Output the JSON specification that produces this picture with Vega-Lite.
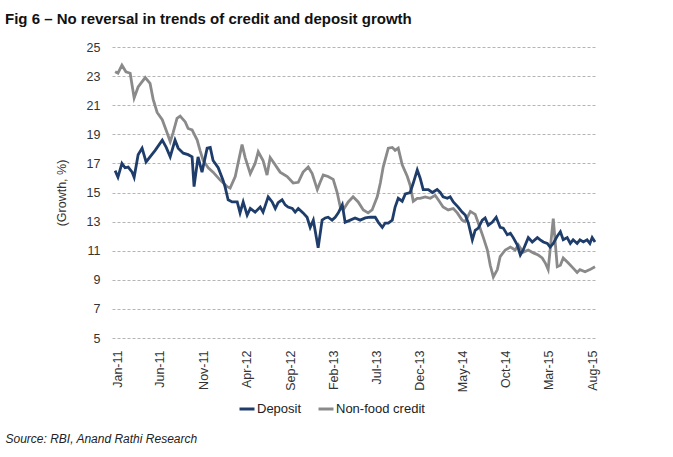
{
  "$schema": "https://vega.github.io/schema/vega-lite/v6.json",
  "width": 485,
  "height": 291,
  "autosize": {"type": "none"},
  "padding": {"left": 112, "top": 47, "right": 76, "bottom": 119},
  "background": "white",
  "config": {
    "font": "Liberation Sans, Arial, sans-serif",
    "view": {"stroke": null}
  },
  "title": {
    "text": "Fig 6 –  No reversal in trends of credit and deposit growth",
    "anchor": "start",
    "frame": "group",
    "dx": -107,
    "offset": 14,
    "fontSize": 15,
    "fontWeight": "bold",
    "color": "#111111"
  },
  "data": {
    "values": [
      {"date": "2010-12-25", "series": "Non-food credit", "value": 23.3},
      {"date": "2011-01-04", "series": "Non-food credit", "value": 23.2},
      {"date": "2011-01-18", "series": "Non-food credit", "value": 23.75},
      {"date": "2011-02-01", "series": "Non-food credit", "value": 23.3},
      {"date": "2011-02-16", "series": "Non-food credit", "value": 23.2},
      {"date": "2011-03-02", "series": "Non-food credit", "value": 21.5},
      {"date": "2011-03-16", "series": "Non-food credit", "value": 22.25},
      {"date": "2011-04-10", "series": "Non-food credit", "value": 22.9},
      {"date": "2011-04-27", "series": "Non-food credit", "value": 22.5},
      {"date": "2011-05-08", "series": "Non-food credit", "value": 21.4},
      {"date": "2011-05-22", "series": "Non-food credit", "value": 20.5},
      {"date": "2011-06-09", "series": "Non-food credit", "value": 20.0},
      {"date": "2011-06-26", "series": "Non-food credit", "value": 19.1},
      {"date": "2011-07-07", "series": "Non-food credit", "value": 18.5},
      {"date": "2011-07-17", "series": "Non-food credit", "value": 19.1},
      {"date": "2011-07-31", "series": "Non-food credit", "value": 20.1},
      {"date": "2011-08-11", "series": "Non-food credit", "value": 20.25},
      {"date": "2011-08-29", "series": "Non-food credit", "value": 19.85},
      {"date": "2011-09-08", "series": "Non-food credit", "value": 19.4},
      {"date": "2011-09-22", "series": "Non-food credit", "value": 19.3},
      {"date": "2011-10-10", "series": "Non-food credit", "value": 18.6},
      {"date": "2011-10-20", "series": "Non-food credit", "value": 17.9},
      {"date": "2011-10-31", "series": "Non-food credit", "value": 17.2},
      {"date": "2011-11-18", "series": "Non-food credit", "value": 16.7},
      {"date": "2011-12-05", "series": "Non-food credit", "value": 16.4},
      {"date": "2011-12-30", "series": "Non-food credit", "value": 15.85},
      {"date": "2012-01-24", "series": "Non-food credit", "value": 15.4},
      {"date": "2012-02-03", "series": "Non-food credit", "value": 15.3},
      {"date": "2012-02-21", "series": "Non-food credit", "value": 16.1},
      {"date": "2012-03-16", "series": "Non-food credit", "value": 18.3},
      {"date": "2012-03-27", "series": "Non-food credit", "value": 17.4},
      {"date": "2012-04-14", "series": "Non-food credit", "value": 16.3},
      {"date": "2012-05-01", "series": "Non-food credit", "value": 17.0},
      {"date": "2012-05-12", "series": "Non-food credit", "value": 17.8},
      {"date": "2012-05-29", "series": "Non-food credit", "value": 17.2},
      {"date": "2012-06-12", "series": "Non-food credit", "value": 16.2},
      {"date": "2012-06-23", "series": "Non-food credit", "value": 17.4},
      {"date": "2012-07-04", "series": "Non-food credit", "value": 17.1},
      {"date": "2012-07-28", "series": "Non-food credit", "value": 16.4},
      {"date": "2012-08-22", "series": "Non-food credit", "value": 16.1},
      {"date": "2012-09-12", "series": "Non-food credit", "value": 15.65},
      {"date": "2012-09-30", "series": "Non-food credit", "value": 15.7},
      {"date": "2012-10-17", "series": "Non-food credit", "value": 16.4},
      {"date": "2012-11-04", "series": "Non-food credit", "value": 16.75},
      {"date": "2012-11-18", "series": "Non-food credit", "value": 16.3},
      {"date": "2012-12-06", "series": "Non-food credit", "value": 15.2},
      {"date": "2012-12-16", "series": "Non-food credit", "value": 15.7},
      {"date": "2012-12-27", "series": "Non-food credit", "value": 16.2},
      {"date": "2013-01-13", "series": "Non-food credit", "value": 16.1},
      {"date": "2013-01-31", "series": "Non-food credit", "value": 15.9},
      {"date": "2013-02-14", "series": "Non-food credit", "value": 15.0},
      {"date": "2013-02-25", "series": "Non-food credit", "value": 14.0},
      {"date": "2013-03-07", "series": "Non-food credit", "value": 13.8},
      {"date": "2013-03-25", "series": "Non-food credit", "value": 14.35},
      {"date": "2013-04-11", "series": "Non-food credit", "value": 14.7},
      {"date": "2013-04-29", "series": "Non-food credit", "value": 14.35},
      {"date": "2013-05-17", "series": "Non-food credit", "value": 13.8},
      {"date": "2013-06-03", "series": "Non-food credit", "value": 13.6},
      {"date": "2013-06-17", "series": "Non-food credit", "value": 13.8},
      {"date": "2013-07-05", "series": "Non-food credit", "value": 14.7},
      {"date": "2013-07-16", "series": "Non-food credit", "value": 15.65},
      {"date": "2013-07-26", "series": "Non-food credit", "value": 16.75},
      {"date": "2013-08-13", "series": "Non-food credit", "value": 18.05},
      {"date": "2013-08-27", "series": "Non-food credit", "value": 18.1},
      {"date": "2013-09-06", "series": "Non-food credit", "value": 17.9},
      {"date": "2013-09-17", "series": "Non-food credit", "value": 18.05},
      {"date": "2013-10-01", "series": "Non-food credit", "value": 16.9},
      {"date": "2013-10-19", "series": "Non-food credit", "value": 16.1},
      {"date": "2013-10-29", "series": "Non-food credit", "value": 15.5},
      {"date": "2013-11-09", "series": "Non-food credit", "value": 14.4},
      {"date": "2013-11-23", "series": "Non-food credit", "value": 14.6},
      {"date": "2013-12-03", "series": "Non-food credit", "value": 14.6},
      {"date": "2013-12-21", "series": "Non-food credit", "value": 14.7},
      {"date": "2014-01-08", "series": "Non-food credit", "value": 14.6},
      {"date": "2014-01-25", "series": "Non-food credit", "value": 14.8},
      {"date": "2014-02-05", "series": "Non-food credit", "value": 14.5},
      {"date": "2014-02-22", "series": "Non-food credit", "value": 14.0},
      {"date": "2014-03-12", "series": "Non-food credit", "value": 13.8},
      {"date": "2014-03-30", "series": "Non-food credit", "value": 13.9},
      {"date": "2014-04-13", "series": "Non-food credit", "value": 13.6},
      {"date": "2014-04-30", "series": "Non-food credit", "value": 13.1},
      {"date": "2014-05-11", "series": "Non-food credit", "value": 13.0},
      {"date": "2014-05-29", "series": "Non-food credit", "value": 13.7},
      {"date": "2014-06-15", "series": "Non-food credit", "value": 13.5},
      {"date": "2014-06-26", "series": "Non-food credit", "value": 12.9},
      {"date": "2014-07-13", "series": "Non-food credit", "value": 11.95},
      {"date": "2014-07-28", "series": "Non-food credit", "value": 11.05},
      {"date": "2014-08-07", "series": "Non-food credit", "value": 10.0},
      {"date": "2014-08-18", "series": "Non-food credit", "value": 9.2},
      {"date": "2014-09-01", "series": "Non-food credit", "value": 9.7},
      {"date": "2014-09-11", "series": "Non-food credit", "value": 10.6},
      {"date": "2014-09-29", "series": "Non-food credit", "value": 11.05},
      {"date": "2014-10-17", "series": "Non-food credit", "value": 11.25},
      {"date": "2014-11-03", "series": "Non-food credit", "value": 11.05},
      {"date": "2014-11-14", "series": "Non-food credit", "value": 11.4},
      {"date": "2014-12-01", "series": "Non-food credit", "value": 10.9},
      {"date": "2014-12-19", "series": "Non-food credit", "value": 11.05},
      {"date": "2015-01-06", "series": "Non-food credit", "value": 10.85},
      {"date": "2015-01-23", "series": "Non-food credit", "value": 10.7},
      {"date": "2015-02-06", "series": "Non-food credit", "value": 10.5},
      {"date": "2015-02-17", "series": "Non-food credit", "value": 10.15},
      {"date": "2015-02-27", "series": "Non-food credit", "value": 9.7},
      {"date": "2015-03-17", "series": "Non-food credit", "value": 13.2},
      {"date": "2015-03-31", "series": "Non-food credit", "value": 9.9},
      {"date": "2015-04-11", "series": "Non-food credit", "value": 10.0},
      {"date": "2015-04-21", "series": "Non-food credit", "value": 10.5},
      {"date": "2015-05-09", "series": "Non-food credit", "value": 10.15},
      {"date": "2015-05-26", "series": "Non-food credit", "value": 9.8},
      {"date": "2015-06-09", "series": "Non-food credit", "value": 9.5},
      {"date": "2015-06-19", "series": "Non-food credit", "value": 9.7},
      {"date": "2015-07-07", "series": "Non-food credit", "value": 9.55},
      {"date": "2015-07-24", "series": "Non-food credit", "value": 9.7},
      {"date": "2015-08-11", "series": "Non-food credit", "value": 9.9},
      {"date": "2010-12-25", "series": "Deposit", "value": 16.5},
      {"date": "2011-01-04", "series": "Deposit", "value": 16.05},
      {"date": "2011-01-18", "series": "Deposit", "value": 17.0},
      {"date": "2011-01-29", "series": "Deposit", "value": 16.7},
      {"date": "2011-02-09", "series": "Deposit", "value": 16.75},
      {"date": "2011-02-23", "series": "Deposit", "value": 16.4},
      {"date": "2011-03-02", "series": "Deposit", "value": 16.05},
      {"date": "2011-03-16", "series": "Deposit", "value": 17.6},
      {"date": "2011-03-30", "series": "Deposit", "value": 18.05},
      {"date": "2011-04-13", "series": "Deposit", "value": 17.1},
      {"date": "2011-04-27", "series": "Deposit", "value": 17.45},
      {"date": "2011-05-15", "series": "Deposit", "value": 17.9},
      {"date": "2011-06-09", "series": "Deposit", "value": 18.6},
      {"date": "2011-06-23", "series": "Deposit", "value": 18.1},
      {"date": "2011-07-07", "series": "Deposit", "value": 17.45},
      {"date": "2011-07-24", "series": "Deposit", "value": 18.6},
      {"date": "2011-08-04", "series": "Deposit", "value": 18.05},
      {"date": "2011-08-22", "series": "Deposit", "value": 17.7},
      {"date": "2011-09-08", "series": "Deposit", "value": 17.6},
      {"date": "2011-09-22", "series": "Deposit", "value": 17.45},
      {"date": "2011-09-29", "series": "Deposit", "value": 15.4},
      {"date": "2011-10-13", "series": "Deposit", "value": 17.45},
      {"date": "2011-10-27", "series": "Deposit", "value": 16.4},
      {"date": "2011-11-14", "series": "Deposit", "value": 18.05},
      {"date": "2011-11-25", "series": "Deposit", "value": 18.1},
      {"date": "2011-12-05", "series": "Deposit", "value": 17.2},
      {"date": "2011-12-23", "series": "Deposit", "value": 16.7},
      {"date": "2012-01-09", "series": "Deposit", "value": 15.85},
      {"date": "2012-01-16", "series": "Deposit", "value": 15.4},
      {"date": "2012-01-27", "series": "Deposit", "value": 14.5},
      {"date": "2012-02-10", "series": "Deposit", "value": 14.35},
      {"date": "2012-02-28", "series": "Deposit", "value": 14.35},
      {"date": "2012-03-09", "series": "Deposit", "value": 13.6},
      {"date": "2012-03-20", "series": "Deposit", "value": 14.35},
      {"date": "2012-04-03", "series": "Deposit", "value": 13.45},
      {"date": "2012-04-14", "series": "Deposit", "value": 13.9},
      {"date": "2012-05-01", "series": "Deposit", "value": 13.65},
      {"date": "2012-05-19", "series": "Deposit", "value": 14.0},
      {"date": "2012-05-29", "series": "Deposit", "value": 13.65},
      {"date": "2012-06-16", "series": "Deposit", "value": 14.7},
      {"date": "2012-06-30", "series": "Deposit", "value": 14.35},
      {"date": "2012-07-11", "series": "Deposit", "value": 13.9},
      {"date": "2012-07-21", "series": "Deposit", "value": 14.3},
      {"date": "2012-08-04", "series": "Deposit", "value": 14.5},
      {"date": "2012-08-15", "series": "Deposit", "value": 14.15},
      {"date": "2012-08-25", "series": "Deposit", "value": 14.0},
      {"date": "2012-09-09", "series": "Deposit", "value": 13.9},
      {"date": "2012-09-19", "series": "Deposit", "value": 13.65},
      {"date": "2012-09-30", "series": "Deposit", "value": 13.9},
      {"date": "2012-10-17", "series": "Deposit", "value": 13.6},
      {"date": "2012-10-31", "series": "Deposit", "value": 13.3},
      {"date": "2012-11-11", "series": "Deposit", "value": 12.6},
      {"date": "2012-11-22", "series": "Deposit", "value": 13.1},
      {"date": "2012-12-09", "series": "Deposit", "value": 11.2},
      {"date": "2012-12-23", "series": "Deposit", "value": 13.1},
      {"date": "2013-01-03", "series": "Deposit", "value": 13.25},
      {"date": "2013-01-13", "series": "Deposit", "value": 13.3},
      {"date": "2013-01-27", "series": "Deposit", "value": 13.1},
      {"date": "2013-02-07", "series": "Deposit", "value": 13.3},
      {"date": "2013-02-18", "series": "Deposit", "value": 13.6},
      {"date": "2013-03-04", "series": "Deposit", "value": 14.15},
      {"date": "2013-03-14", "series": "Deposit", "value": 12.95},
      {"date": "2013-04-01", "series": "Deposit", "value": 13.1},
      {"date": "2013-04-18", "series": "Deposit", "value": 13.25},
      {"date": "2013-05-06", "series": "Deposit", "value": 13.1},
      {"date": "2013-05-24", "series": "Deposit", "value": 13.25},
      {"date": "2013-06-10", "series": "Deposit", "value": 13.3},
      {"date": "2013-06-28", "series": "Deposit", "value": 13.3},
      {"date": "2013-07-09", "series": "Deposit", "value": 12.95},
      {"date": "2013-07-23", "series": "Deposit", "value": 12.6},
      {"date": "2013-08-02", "series": "Deposit", "value": 12.9},
      {"date": "2013-08-13", "series": "Deposit", "value": 12.9},
      {"date": "2013-08-27", "series": "Deposit", "value": 13.1},
      {"date": "2013-09-06", "series": "Deposit", "value": 14.0},
      {"date": "2013-09-17", "series": "Deposit", "value": 14.6},
      {"date": "2013-10-01", "series": "Deposit", "value": 14.4},
      {"date": "2013-10-12", "series": "Deposit", "value": 14.9},
      {"date": "2013-10-29", "series": "Deposit", "value": 15.0},
      {"date": "2013-11-09", "series": "Deposit", "value": 15.65},
      {"date": "2013-11-23", "series": "Deposit", "value": 16.55},
      {"date": "2013-12-03", "series": "Deposit", "value": 16.0},
      {"date": "2013-12-14", "series": "Deposit", "value": 15.2},
      {"date": "2014-01-01", "series": "Deposit", "value": 15.2},
      {"date": "2014-01-15", "series": "Deposit", "value": 15.0},
      {"date": "2014-02-01", "series": "Deposit", "value": 15.2},
      {"date": "2014-02-12", "series": "Deposit", "value": 15.0},
      {"date": "2014-02-22", "series": "Deposit", "value": 14.7},
      {"date": "2014-03-09", "series": "Deposit", "value": 14.6},
      {"date": "2014-03-19", "series": "Deposit", "value": 14.7},
      {"date": "2014-03-30", "series": "Deposit", "value": 14.35},
      {"date": "2014-04-16", "series": "Deposit", "value": 14.0},
      {"date": "2014-04-30", "series": "Deposit", "value": 13.65},
      {"date": "2014-05-11", "series": "Deposit", "value": 13.45},
      {"date": "2014-05-22", "series": "Deposit", "value": 12.9},
      {"date": "2014-06-05", "series": "Deposit", "value": 11.75},
      {"date": "2014-06-15", "series": "Deposit", "value": 12.4},
      {"date": "2014-06-26", "series": "Deposit", "value": 12.55},
      {"date": "2014-07-10", "series": "Deposit", "value": 13.1},
      {"date": "2014-07-20", "series": "Deposit", "value": 13.25},
      {"date": "2014-07-31", "series": "Deposit", "value": 12.75},
      {"date": "2014-08-14", "series": "Deposit", "value": 12.95},
      {"date": "2014-08-28", "series": "Deposit", "value": 13.3},
      {"date": "2014-09-11", "series": "Deposit", "value": 12.6},
      {"date": "2014-09-22", "series": "Deposit", "value": 12.55},
      {"date": "2014-10-06", "series": "Deposit", "value": 12.1},
      {"date": "2014-10-17", "series": "Deposit", "value": 12.2},
      {"date": "2014-10-27", "series": "Deposit", "value": 11.9},
      {"date": "2014-11-10", "series": "Deposit", "value": 11.4},
      {"date": "2014-11-21", "series": "Deposit", "value": 10.7},
      {"date": "2014-12-01", "series": "Deposit", "value": 11.05},
      {"date": "2014-12-19", "series": "Deposit", "value": 11.9},
      {"date": "2015-01-02", "series": "Deposit", "value": 11.6},
      {"date": "2015-01-20", "series": "Deposit", "value": 11.9},
      {"date": "2015-01-30", "series": "Deposit", "value": 11.75},
      {"date": "2015-02-10", "series": "Deposit", "value": 11.6},
      {"date": "2015-02-24", "series": "Deposit", "value": 11.5},
      {"date": "2015-03-06", "series": "Deposit", "value": 11.25},
      {"date": "2015-03-17", "series": "Deposit", "value": 11.5},
      {"date": "2015-03-31", "series": "Deposit", "value": 12.0},
      {"date": "2015-04-11", "series": "Deposit", "value": 12.3},
      {"date": "2015-04-21", "series": "Deposit", "value": 11.75},
      {"date": "2015-05-05", "series": "Deposit", "value": 11.9},
      {"date": "2015-05-16", "series": "Deposit", "value": 11.5},
      {"date": "2015-05-26", "series": "Deposit", "value": 11.75},
      {"date": "2015-06-09", "series": "Deposit", "value": 11.5},
      {"date": "2015-06-19", "series": "Deposit", "value": 11.75},
      {"date": "2015-07-01", "series": "Deposit", "value": 11.6},
      {"date": "2015-07-14", "series": "Deposit", "value": 11.75},
      {"date": "2015-07-24", "series": "Deposit", "value": 11.5},
      {"date": "2015-08-01", "series": "Deposit", "value": 11.9},
      {"date": "2015-08-11", "series": "Deposit", "value": 11.6}
    ]
  },
  "mark": {"type": "line", "strokeWidth": 2.8},
  "encoding": {
    "x": {
      "field": "date",
      "type": "temporal",
      "scale": {
        "type": "utc",
        "domain": [
          {"year": 2010, "month": 12, "date": 14, "utc": true},
          {"year": 2015, "month": 8, "date": 18, "utc": true}
        ]
      },
      "axis": {
        "values": [
          {"year": 2011, "month": 1, "date": 1, "utc": true},
          {"year": 2011, "month": 6, "date": 1, "utc": true},
          {"year": 2011, "month": 11, "date": 1, "utc": true},
          {"year": 2012, "month": 4, "date": 1, "utc": true},
          {"year": 2012, "month": 9, "date": 1, "utc": true},
          {"year": 2013, "month": 2, "date": 1, "utc": true},
          {"year": 2013, "month": 7, "date": 1, "utc": true},
          {"year": 2013, "month": 12, "date": 1, "utc": true},
          {"year": 2014, "month": 5, "date": 1, "utc": true},
          {"year": 2014, "month": 10, "date": 1, "utc": true},
          {"year": 2015, "month": 3, "date": 1, "utc": true},
          {"year": 2015, "month": 8, "date": 1, "utc": true}
        ],
        "labelExpr": "utcFormat(datum.value, '%b-%y')",
        "labelAngle": -90,
        "labelAlign": "right",
        "labelBaseline": "middle",
        "labelPadding": 12,
        "labelOverlap": false,
        "labelFontSize": 12.5,
        "labelColor": "#333333",
        "ticks": false,
        "domain": false,
        "grid": false,
        "title": "Source: RBI, Anand Rathi Research",
        "titleX": -107,
        "titleY": 100,
        "titleAlign": "left",
        "titleBaseline": "middle",
        "titleFontStyle": "italic",
        "titleFontWeight": "normal",
        "titleFontSize": 12,
        "titleColor": "#222222"
      }
    },
    "y": {
      "field": "value",
      "type": "quantitative",
      "scale": {"domain": [5, 25], "nice": false, "zero": false},
      "axis": {
        "values": [5, 7, 9, 11, 13, 15, 17, 19, 21, 23, 25],
        "grid": true,
        "gridDash": [3, 2],
        "gridColor": "#b5b5b5",
        "gridWidth": 1,
        "domain": false,
        "ticks": false,
        "labelPadding": 12,
        "labelFontSize": 12.5,
        "labelColor": "#333333",
        "title": "(Growth, %)",
        "titleFontSize": 12.5,
        "titleFontWeight": "normal",
        "titleColor": "#333333",
        "titlePadding": 18
      }
    },
    "color": {
      "field": "series",
      "type": "nominal",
      "scale": {"domain": ["Deposit", "Non-food credit"], "range": ["#1f3d6b", "#8a8a8a"]},
      "legend": {
        "orient": "none",
        "legendX": 126,
        "legendY": 353,
        "direction": "horizontal",
        "title": null,
        "symbolType": "stroke",
        "symbolStrokeWidth": 3,
        "symbolSize": 225,
        "labelFontSize": 13,
        "labelColor": "#222222",
        "labelOffset": 1,
        "columnPadding": 10
      }
    }
  }
}
